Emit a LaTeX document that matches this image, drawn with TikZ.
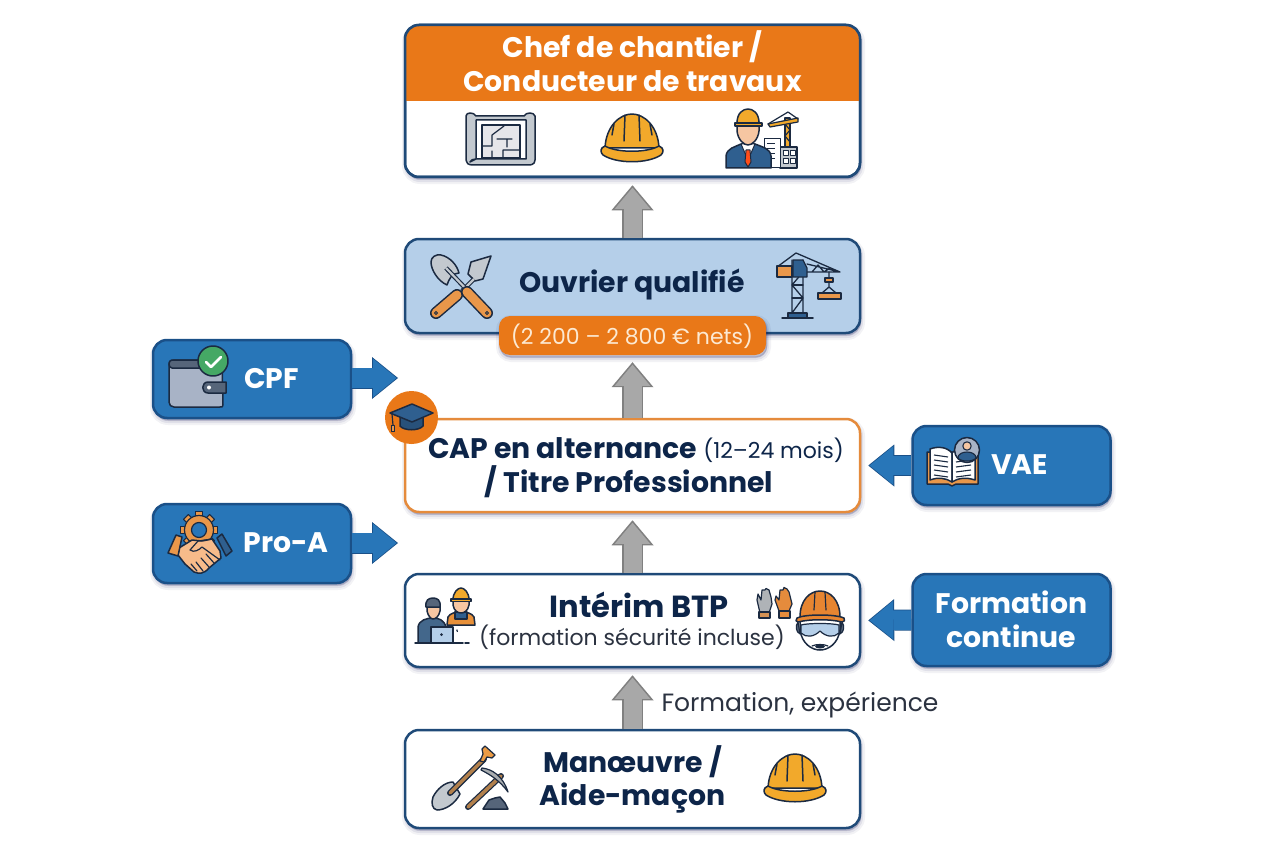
\documentclass[tikz,border=0pt]{standalone}
\usepackage{fontspec}
\setmainfont{Poppins}
\usetikzlibrary{arrows.meta,calc}
\definecolor{navyline}{HTML}{1F4A78}
\definecolor{navytext}{HTML}{0D2549}
\definecolor{orangemain}{HTML}{E97818}
\definecolor{orangeline}{HTML}{E58B3C}
\definecolor{paleblue}{HTML}{B5CFE9}
\definecolor{bluemain}{HTML}{2876B8}
\definecolor{blueline}{HTML}{1A5088}
\definecolor{greyfill}{HTML}{A8A8A8}
\definecolor{greyline}{HTML}{808080}
\definecolor{creamtext}{HTML}{FCE9D2}
\definecolor{ink}{HTML}{1B2A41}
\definecolor{bodytext}{HTML}{2B3240}
\definecolor{amber}{HTML}{F2A92B}
\definecolor{skin}{HTML}{F6C6A2}
\definecolor{steel}{HTML}{C3C9CF}
\definecolor{tan}{HTML}{E9974A}
\definecolor{suit}{HTML}{2F5F8F}
\definecolor{slate}{HTML}{56657A}
\definecolor{walletgrey}{HTML}{A8B3C6}
\definecolor{badgegreen}{HTML}{45A865}
\tikzset{
  softshade/.style={
    preaction={draw=black!70!blue,fill=black!70!blue,draw opacity=.05,fill opacity=.05,line width=8pt,transform canvas={xshift=1pt,yshift=-3pt}},
    preaction={draw=black!70!blue,fill=black!70!blue,draw opacity=.07,fill opacity=.07,line width=4pt,transform canvas={xshift=1pt,yshift=-3pt}},
    preaction={draw=black!70!blue,fill=black!70!blue,draw opacity=.09,fill opacity=.09,line width=1pt,transform canvas={xshift=1pt,yshift=-2pt}}},
  card/.style={rectangle,rounded corners=14pt,inner sep=0pt,line width=2.5pt,draw=navyline,fill=white,minimum width=455pt,softshade},
  sidecard/.style={rectangle,rounded corners=14pt,inner sep=0pt,line width=2.5pt,draw=blueline,fill=bluemain,minimum width=198pt,softshade},
  title/.style={font=\fontsize{28.3}{28.3}\selectfont\bfseries,text=navytext,inner sep=0pt,anchor=base},
  sidetitle/.style={title,text=white},
  plain/.style={font=\fontsize{22}{22}\selectfont,text=bodytext,inner sep=0pt,anchor=base},
  liftarrow/.style={line width=18pt,draw=greyfill,shorten >=9.5pt,-{Triangle[length=21.2pt,width=35.6pt,line width=0pt]},
    preaction={draw=greyline,line width=21pt,shorten >=7pt,-{Triangle[length=25pt,width=42pt,line width=0pt]}}},
  sidearrow/.style={line width=19.5pt,draw=bluemain,shorten >=8.4pt,-{Triangle[length=23.6pt,width=38.6pt,line width=0pt]},
    preaction={draw=blueline,line width=21pt,shorten >=7pt,-{Triangle[length=26pt,width=42pt,line width=0pt]}}},
  icon/.style={draw=ink,line width=1.5pt,line join=round,line cap=round},
}
% Hard hat centred on the origin of its scope
\newcommand{\hardhat}[3]{%
  \begin{scope}[shift={(#1,#2)}]
    \draw[icon,fill=#3] (-27,10) .. controls (-26,-12) and (-12,-24) .. (0,-24) .. controls (12,-24) and (26,-12) .. (27,10) -- cycle;
    \draw[icon,fill=#3] (-27,8) .. controls (-32,10) and (-32,14) .. (-29,17) .. controls (-15,26) and (15,26) .. (29,17) .. controls (32,14) and (32,10) .. (27,8) .. controls (15,15) and (-15,15) .. (-27,8) -- cycle;
    \draw[icon] (-7,-23) -- (-8,3) (7,-23) -- (8,3) (-18,-14) -- (-20,-3) (18,-14) -- (20,-3);
  \end{scope}}
\begin{document}
\begin{tikzpicture}[x=1pt,y=-1pt]
\useasboundingbox (0,0) rectangle (1264,848);
\fill[white] (0,0) rectangle (1264,848);

% Career ladder
\node[card,minimum height=152pt] (chef) at (632.5,101) {};
\node[card,minimum height=94pt,fill=paleblue] (ouvrier) at (632.5,286) {};
\node[card,minimum height=93pt,draw=orangeline] (cap) at (632.5,465.5) {};
\node[card,minimum height=93pt] (interim) at (632.5,620.5) {};
\node[card,minimum height=98pt] (manoeuvre) at (632.5,779) {};

% Orange header band of the top card, cut to the card outline
\begin{scope}
  \clip[rounded corners=14pt] (405,25) rectangle (860,177);
  \fill[orangemain] (405,25) rectangle (860,101);
\end{scope}
\draw[navyline,line width=2.5pt,rounded corners=14pt] (405,25) rectangle (860,177);
\node[title,text=white] (chefa) at (632.5,57.500) {Chef de chantier /};
\node[title,text=white] (chefb) at (632.5,91.500) {Conducteur de travaux};

% Salary pill
\node[rectangle,rounded corners=11pt,fill=orangemain,minimum width=267pt,minimum height=39pt,inner sep=0pt,softshade] (pill) at (632.5,335.5) {};
\node[plain,text=creamtext] (pilltext) at (632,344) {(2 200 – 2 800 € nets)};

% Funding and validation routes
\node[sidecard,minimum height=78pt] (cpf) at (252,379) {};
\node[sidecard,minimum height=79pt] (proa) at (252,543.5) {};
\node[sidecard,minimum height=79pt] (vae) at (1011.5,465.5) {};
\node[sidecard,minimum height=92pt] (continue) at (1011.5,620) {};
\coordinate (cpfend) at (405,378);
\coordinate (proaend) at (405,543);

% Connectors
\draw[liftarrow] (ouvrier.north) -- (chef.south);
\draw[liftarrow] (cap.north) -- (ouvrier.south |- pill.south);
\draw[liftarrow] (interim.north) -- (cap.south);
\draw[liftarrow] (manoeuvre.north) -- (interim.south);
\draw[sidearrow] (cpf.east |- cpfend) -- (cpfend);
\draw[sidearrow] (proa.east |- proaend) -- (proaend);
\draw[sidearrow] (vae.west) -- (cap.east);
\draw[sidearrow] (continue.west) -- (interim.east);

% Labels
\node[title] (ouvriert) at (632,292) {Ouvrier qualifié};
\node[title] (capa) at (636,458) {CAP en alternance {\fontsize{22}{22}\selectfont\mdseries (12–24 mois)}};
\node[title] (capb) at (629,492) {/ Titre Professionnel};
\node[title,font=\fontsize{30.5}{30.5}\selectfont\bfseries] (interima) at (639,617) {Intérim BTP};
\node[plain] (interimb) at (632,645) {(formation sécurité incluse)};
\node[plain,font=\fontsize{25}{25}\selectfont] (lift) at (800,711) {Formation, expérience};
\node[title] (mana) at (632.5,772) {Manœuvre /};
\node[title] (manb) at (632.5,805) {Aide-maçon};
\node[sidetitle] (cpft) at (271.5,388) {CPF};
\node[sidetitle] (proat) at (286,552) {Pro-A};
\node[sidetitle] (vaet) at (1019.5,474) {VAE};
\node[sidetitle] (conta) at (1011.5,613) {Formation};
\node[sidetitle] (contb) at (1011.5,647) {continue};

% Blueprint
\draw[icon,fill=steel] (466,116) .. controls (466,112) and (474,112) .. (476,116) -- (524,116) .. controls (526,112) and (534,112) .. (535,116) -- (535,160) .. controls (535,165) and (530,165) .. (528,165) -- (473,165) .. controls (468,165) and (466,163) .. (466,160) -- cycle;
\draw[icon,fill=white] (476,120) -- (526,120) -- (526,159) -- (476,159) .. controls (473,159) and (471,160) .. (470,162) -- (476,159) -- cycle;
\draw[icon,fill=blue!8!gray!18,line width=1.2pt] (482,125) rectangle (520,158);
\draw[icon,line width=1.2pt] (482,146) -- (492,146) -- (492,135) -- (504,126) (497,139) -- (512,139) (507,139) -- (507,147) (503,158) -- (503,150) -- (520,150) (492,151) -- (492,158);

% Hard hats
\hardhat{632}{138}{amber}
\hardhat{795}{778}{amber}

% Engineer and site
\draw[icon,fill=steel] (780,147) rectangle (797,168);
\draw[icon,fill=white,line width=1pt] (764,139) rectangle (780,168);
\foreach \ya in {144,149,154,159}{\draw[ink,line width=1pt] (767,\ya) -- (775,\ya);}
\draw[icon,fill=white,line width=1pt] (783,151) rectangle (788,156) (790,151) rectangle (795,156) (783,159) rectangle (788,164) (790,159) rectangle (795,164);
\draw[icon,fill=amber,line width=1.2pt] (785,147) -- (785,118) -- (790,118) -- (790,147) -- cycle;
\draw[icon,line width=1.2pt] (785,124) -- (790,130) -- (785,136) -- (790,142);
\draw[icon,fill=amber,line width=1.2pt] (768,124) -- (798,118) -- (798,122) -- (770,127) -- cycle;
\draw[icon,line width=1.2pt] (788,112) -- (768,124) (788,112) -- (798,119);
\draw[icon,fill=suit] (726,168) -- (726,156) .. controls (727,148) and (735,147) .. (741,144) -- (755,144) .. controls (762,147) and (770,148) .. (771,156) -- (771,168) -- cycle;
\draw[icon,fill=white,line width=1pt] (741,144) -- (748,160) -- (755,144) -- cycle;
\draw[icon,fill=red!55!orange!90,line width=1pt] (746,150) -- (750,150) -- (751,162) -- (748,167) -- (745,162) -- cycle;
\draw[icon,fill=skin] (737,122) -- (737,131) .. controls (738,140) and (744,145) .. (748,145) .. controls (752,145) and (758,140) .. (759,131) -- (759,122) -- cycle;
\draw[icon,fill=amber] (737,123) .. controls (737,113) and (743,109) .. (748,109) .. controls (753,109) and (759,113) .. (759,123) -- cycle;
\draw[icon,fill=amber] (735,123) -- (762,123) -- (762,126) -- (735,126) -- cycle;

% Crossed shovels
\draw[icon,fill=steel] (491,256) -- (471,262) -- (468,274) -- (475,281) -- (483,279) -- cycle;
\draw[ink,line width=4.5pt] (474,279) -- (462,291);
\draw[steel,line width=2.2pt] (474,279) -- (462,291);
\draw[ink,line width=12pt,line cap=round] (457,295) -- (436,313);
\draw[tan,line width=9pt,line cap=round] (457,295) -- (436,313);
\draw[icon,fill=steel] (431,262) .. controls (431,257) and (436,254) .. (441,255) .. controls (450,257) and (457,265) .. (459,273) .. controls (452,273) and (449,279) .. (447,285) .. controls (438,281) and (431,270) .. (431,262) -- cycle;
\draw[ink,line width=4.5pt] (446,268) -- (470,293);
\draw[steel,line width=2.2pt] (446,268) -- (470,293);
\draw[ink,line width=12pt,line cap=round] (467,292) -- (487,313);
\draw[tan,line width=9pt,line cap=round] (467,292) -- (487,313);
\draw[ink,line width=1pt] (436,313) circle (1.5) (487,313) circle (1.5);

% Tower crane
\draw[icon] (782,318) -- (813,318);
\draw[icon,fill=suit] (788,313) rectangle (807,318);
\draw[icon,line width=1.3pt] (792,313) -- (792,260) (803,313) -- (803,260) (792,313) -- (803,298) -- (792,285) -- (803,272);
\draw[icon,line width=1.3pt] (792,298) -- (803,298) (792,285) -- (803,285);
\draw[icon,line width=1.3pt] (777,267) -- (796,253) -- (840,272) -- (803,272) (807,264) -- (840,272) (812,272) -- (818,265) -- (824,272) -- (830,268);
\draw[icon,fill=tan,line width=1.3pt] (777,266) rectangle (792,277);
\draw[icon,fill=suit,line width=1.3pt] (793,260) -- (803,260) -- (807,268) -- (807,277) -- (793,277) -- cycle;
\draw[icon,line width=1.3pt] (829,272) -- (829,287) (829,287) -- (822,293) (829,287) -- (836,293);
\draw[icon,fill=tan,line width=1.3pt] (825,278) rectangle (833,282);
\draw[icon,fill=tan,line width=1.3pt] (818,293) rectangle (841,299);

% Wallet with check badge
\draw[icon,fill=walletgrey] (169,365) .. controls (169,360) and (172,360) .. (175,360) -- (222,360) -- (223,405) .. controls (223,407) and (222,407) .. (220,407) -- (174,407) .. controls (171,407) and (169,405) .. (169,402) -- cycle;
\draw[icon,fill=slate] (172,360) -- (205,360) -- (205,368) -- (172,368) .. controls (168,368) and (168,360) .. (172,360) -- cycle;
\draw[icon,fill=slate] (208,382) -- (226,382) -- (226,393) -- (208,393) .. controls (201,393) and (201,382) .. (208,382) -- cycle;
\fill[white] (209,387.500) circle (2);
\draw[icon,fill=badgegreen] (213,361) circle (15);
\draw[white,line width=2.6pt,line cap=round,line join=round] (206,362) -- (211,367) -- (221,357);

% Handshake with gear
\begin{scope}[shift={(199,530)}]
  \foreach \ang in {0,45,...,315}{\draw[icon,fill=tan,line width=1pt,rotate=\ang] (-3.5,-18.500) rectangle (3.5,-12);}
  \draw[icon,fill=tan,line width=1.2pt] (0,0) circle (14.5);
  \draw[icon,fill=bluemain,line width=1.2pt] (0,0) circle (7.5);
\end{scope}
\draw[icon,fill=skin!85!orange] (179,548) -- (192,540) -- (202,541) -- (212,539) -- (220,551) -- (221,558) -- (209,568) .. controls (204,574) and (199,574) .. (194,572) -- (185,564) -- (178,555) -- cycle;
\draw[icon,line width=1.2pt] (212,539) -- (198,541) -- (190,550) .. controls (194,553) and (199,550) .. (202,547) -- (220,560) (197,571) -- (191,564) (203,571) -- (196,562) (209,567) -- (201,558) (214,563) -- (206,554);
\draw[icon,fill=tan] (168,553) -- (176,535) -- (182,537) -- (178,556) -- cycle;
\draw[icon,fill=suit] (217,538) -- (222,534) -- (232,551) -- (226,556) -- cycle;

% Graduation badge
\fill[orangemain] (411.5,417.5) circle (26.5);
\draw[icon,fill=suit!85!black] (400,417) -- (400,426) .. controls (404,431) and (419,431) .. (423,426) -- (423,417) -- cycle;
\draw[icon,fill=suit] (390,413) -- (412,404) -- (433,413) -- (412,422) -- cycle;
\draw[icon,line width=1.2pt] (392,414) -- (393,425);
\draw[icon,fill=tan,line width=1pt] (391.500,425) rectangle (394.5,431);

% Open book with reader portrait
\draw[icon,fill=tan] (927,452) -- (927,484) -- (948,484) -- (952,486) -- (956,484) -- (978,484) -- (978,452) -- cycle;
\draw[icon,fill=white] (930,449) .. controls (938,446) and (947,447) .. (952,453) -- (952,482) .. controls (946,478) and (938,477) .. (930,480) -- cycle;
\draw[icon,fill=white] (952,453) .. controls (958,447) and (966,446) .. (975,449) -- (975,480) .. controls (966,477) and (958,478) .. (952,482) -- cycle;
\foreach \yb in {455,460,465,470,475}{
  \draw[ink,line width=1.1pt] (934,\yb) -- (948,\yb+2);
  \draw[ink,line width=1.1pt] (956,\yb+2) -- (971,\yb);}
\draw[icon,fill=walletgrey] (967,450) circle (12.5);
\draw[icon,fill=skin,line width=1.1pt] (967,446) circle (4.2);
\draw[icon,fill=suit,line width=1.1pt] (958,458) .. controls (958,450) and (976,450) .. (976,458) .. controls (973,462) and (961,462) .. (958,458) -- cycle;

% Office and site workers
\draw[icon,fill=orangeline!85!amber] (447,625) -- (448,617) .. controls (450,613) and (456,612) .. (461,612) .. controls (466,612) and (472,613) .. (474,617) -- (475,625) -- cycle;
\draw[icon,fill=suit,line width=1.1pt] (455,612) -- (455,619) -- (467,619) -- (467,612) -- cycle;
\draw[icon,fill=skin] (453,599) -- (453,605) .. controls (454,611) and (458,613) .. (461,613) .. controls (464,613) and (468,611) .. (469,605) -- (469,599) -- cycle;
\draw[icon,fill=amber] (453,600) .. controls (453,592) and (458,588) .. (461,588) .. controls (464,588) and (469,592) .. (469,600) -- cycle;
\draw[icon,fill=amber,line width=1.1pt] (451,599) rectangle (471,601.5);
\draw[icon,fill=suit!75!gray] (418,643) -- (418,627) .. controls (419,620) and (427,618) .. (433,618) .. controls (439,618) and (444,620) .. (446,627) -- (446,643) -- cycle;
\draw[icon,fill=skin] (427,606) -- (427,611) .. controls (428,616) and (431,619) .. (433,619) .. controls (436,619) and (439,616) .. (440,611) -- (440,606) -- cycle;
\draw[icon,fill=slate] (426,607) .. controls (425,600) and (429,598) .. (433,598) .. controls (437,598) and (441,600) .. (440,607) -- cycle;
\draw[icon,fill=paleblue,line width=1.2pt] (431,627) rectangle (453,643);
\fill[ink] (441.5,634.5) circle (1.5);
\draw[icon] (415,643) -- (463,643) (465,643) -- (469,643);
\draw[ink,line width=1pt,-{Stealth[length=2.5pt]}] (457,632) -- (457,629);

% Work gloves
\draw[icon,fill=steel!70!gray,line width=1.2pt] (760,613) -- (757,600) -- (758,594) -- (761,600) -- (762,590) -- (765,590) -- (766,588.500) -- (769,590) -- (771,597) -- (772,604) -- (769,613) -- cycle;
\draw[icon,fill=tan!80!gray,line width=1.2pt] (759,612) rectangle (770,618);
\draw[icon,fill=orangeline,line width=1.2pt] (779,611) -- (775,600) -- (776,596) -- (779,600) -- (780,590) -- (783,590) -- (784,587.500) -- (787,589) -- (789,592) -- (791,600) -- (792,604) -- (789,611) -- cycle;
\draw[icon,fill=orangeline,line width=1.2pt] (779,611) rectangle (790,618);

% Head with helmet and safety goggles
\draw[icon,fill=slate,line width=1.2pt] (798,622) .. controls (795,626) and (796,632) .. (800,634) -- cycle;
\draw[icon,fill=slate,line width=1.2pt] (842,622) .. controls (845,626) and (844,632) .. (840,634) -- cycle;
\draw[icon,fill=white] (800,618) -- (800,630) .. controls (802,644) and (812,650) .. (820,650) .. controls (828,650) and (838,644) .. (840,630) -- (840,618) -- cycle;
\draw[icon,fill=paleblue,line width=1.2pt] (801,625) .. controls (808,623) and (832,623) .. (839,625) -- (839,633) .. controls (834,638) and (826,637) .. (820,631) .. controls (814,637) and (806,638) .. (801,633) -- cycle;
\draw[icon,line width=1.2pt] (812,646) .. controls (816,644) and (824,644) .. (828,646);
\fill[ink] (820,646.500) ellipse (5 and 2);
\draw[icon,fill=orangeline!70!orangemain] (800,617) .. controls (800,600) and (810,591) .. (820,591) .. controls (830,591) and (840,600) .. (840,617) -- cycle;
\draw[icon,fill=orangeline!70!orangemain] (797,618) .. controls (805,614) and (835,614) .. (844,618) .. controls (846,620) and (844,622) .. (842,622) .. controls (830,619) and (810,619) .. (798,622) .. controls (796,622) and (795,620) .. (797,618) -- cycle;
\draw[icon,line width=1.2pt] (815,592) -- (814,610) (825,592) -- (826,610);

% Shovel and pickaxe with rubble
\draw[icon,fill=steel] (453,782) -- (460,794) .. controls (455,804) and (445,810) .. (437,810) .. controls (432,809) and (431,803) .. (433,797) .. controls (437,789) and (445,782) .. (453,782) -- cycle;
\draw[ink,line width=6pt,line cap=round] (450,793) -- (484,759);
\draw[brown!80!gray,line width=3.5pt,line cap=round] (450,793) -- (484,759);
\draw[icon,fill=tan!80!amber,line width=1.2pt] (480,761) -- (483,754) -- (482,749) -- (485,746) -- (495,755) -- (492,758) -- (487,757) -- (484,762) -- cycle;
\draw[ink,line width=6pt,line cap=round] (468,807) -- (501,776);
\draw[brown!80!gray,line width=3.5pt,line cap=round] (468,807) -- (501,776);
\draw[icon,fill=steel!60!gray,line width=1.2pt] (482,768) .. controls (492,769) and (503,776) .. (508,792) .. controls (500,781) and (491,775) .. (481,770) -- cycle;
\draw[icon,fill=slate] (483,809) -- (489,800) -- (495,798) -- (500,797) -- (505,803) -- (508,809) -- cycle;
\end{tikzpicture}
\end{document}
